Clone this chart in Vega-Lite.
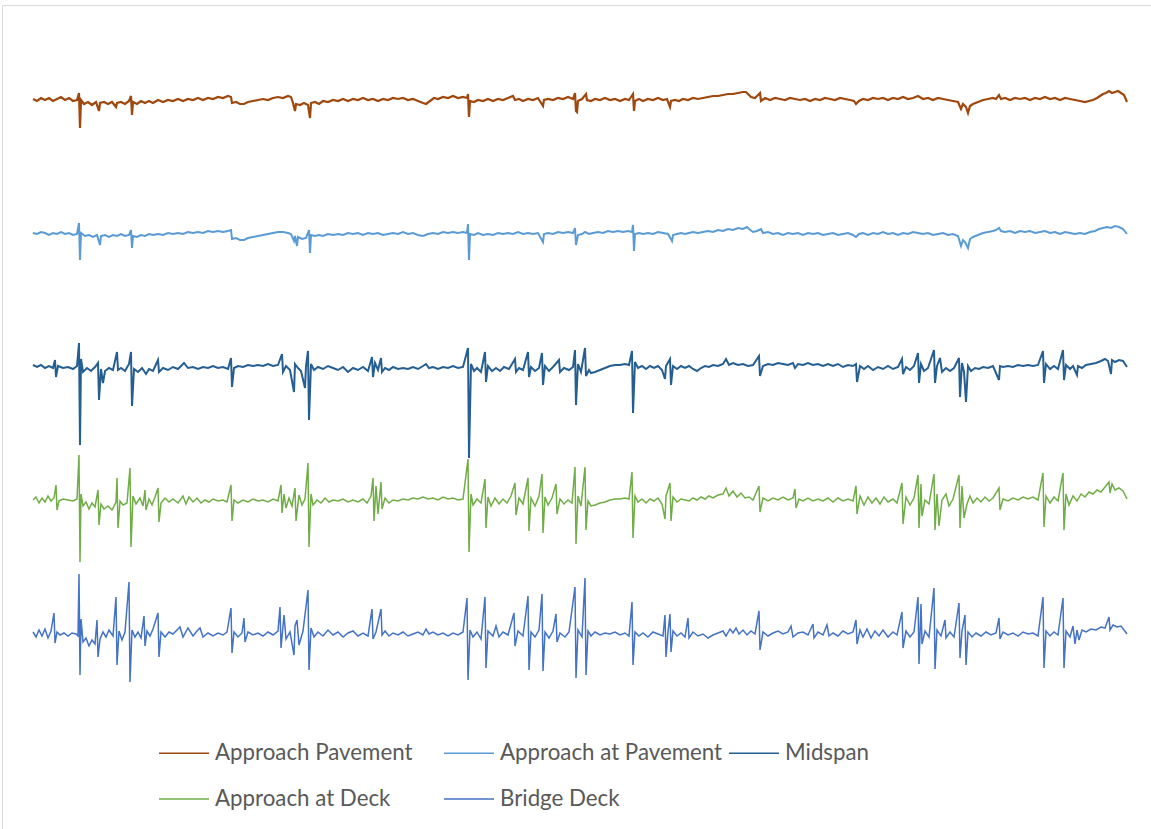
{
 "$schema": "https://vega.github.io/schema/vega-lite/v6.json",
 "width": 1149,
 "height": 824,
 "padding": {"left": 2, "top": 5, "right": 0, "bottom": 0},
 "autosize": {"type": "none"},
 "background": "white",
 "config": {"view": {"stroke": "#d9d9d9", "strokeWidth": 1}},
 "datasets": {
  "ap": [{"t":0,"v":535},{"t":4,"v":533},{"t":8,"v":536},{"t":12,"v":534},{"t":16,"v":536},{"t":20,"v":533},{"t":24,"v":535},{"t":28,"v":537},{"t":32,"v":534},{"t":36,"v":536},{"t":40,"v":533},{"t":44,"v":534},{"t":46,"v":541},{"t":47,"v":506},{"t":48,"v":534},{"t":51,"v":530},{"t":55,"v":532},{"t":59,"v":529},{"t":63,"v":532},{"t":66,"v":523},{"t":67,"v":531},{"t":71,"v":532},{"t":75,"v":530},{"t":79,"v":532},{"t":83,"v":527},{"t":84,"v":531},{"t":88,"v":532},{"t":92,"v":530},{"t":96,"v":533},{"t":98,"v":538},{"t":99,"v":519},{"t":100,"v":532},{"t":104,"v":530},{"t":108,"v":533},{"t":112,"v":531},{"t":116,"v":533},{"t":120,"v":531},{"t":125,"v":534},{"t":130,"v":532},{"t":135,"v":534},{"t":140,"v":533},{"t":145,"v":535},{"t":150,"v":533},{"t":155,"v":535},{"t":160,"v":534},{"t":165,"v":536},{"t":170,"v":534},{"t":175,"v":536},{"t":180,"v":535},{"t":185,"v":537},{"t":190,"v":536},{"t":195,"v":538},{"t":198,"v":537},{"t":199,"v":531},{"t":203,"v":532},{"t":207,"v":530},{"t":211,"v":530},{"t":215,"v":532},{"t":220,"v":533},{"t":225,"v":534},{"t":230,"v":535},{"t":235,"v":534},{"t":240,"v":536},{"t":245,"v":537},{"t":250,"v":536},{"t":255,"v":538},{"t":258,"v":537},{"t":260,"v":531},{"t":262,"v":523},{"t":263,"v":530},{"t":267,"v":529},{"t":271,"v":531},{"t":275,"v":529},{"t":277,"v":516},{"t":278,"v":531},{"t":282,"v":532},{"t":286,"v":530},{"t":290,"v":533},{"t":295,"v":532},{"t":300,"v":534},{"t":305,"v":533},{"t":310,"v":535},{"t":315,"v":533},{"t":320,"v":535},{"t":325,"v":534},{"t":330,"v":536},{"t":335,"v":534},{"t":340,"v":535},{"t":345,"v":533},{"t":350,"v":535},{"t":355,"v":534},{"t":360,"v":536},{"t":365,"v":535},{"t":370,"v":536},{"t":375,"v":534},{"t":380,"v":535},{"t":385,"v":533},{"t":390,"v":531},{"t":393,"v":530},{"t":397,"v":533},{"t":401,"v":536},{"t":405,"v":535},{"t":410,"v":537},{"t":415,"v":536},{"t":420,"v":538},{"t":425,"v":536},{"t":430,"v":537},{"t":434,"v":536},{"t":435,"v":540},{"t":436,"v":517},{"t":437,"v":533},{"t":441,"v":532},{"t":445,"v":534},{"t":450,"v":533},{"t":455,"v":535},{"t":460,"v":533},{"t":465,"v":535},{"t":470,"v":534},{"t":475,"v":536},{"t":480,"v":538},{"t":482,"v":534},{"t":486,"v":535},{"t":490,"v":533},{"t":495,"v":535},{"t":500,"v":534},{"t":505,"v":536},{"t":510,"v":528},{"t":511,"v":534},{"t":515,"v":535},{"t":520,"v":534},{"t":525,"v":536},{"t":530,"v":535},{"t":535,"v":537},{"t":540,"v":535},{"t":542,"v":541},{"t":543,"v":523},{"t":544,"v":522},{"t":545,"v":533},{"t":549,"v":535},{"t":553,"v":540},{"t":554,"v":534},{"t":558,"v":533},{"t":562,"v":535},{"t":567,"v":534},{"t":572,"v":536},{"t":577,"v":534},{"t":582,"v":535},{"t":587,"v":533},{"t":592,"v":535},{"t":596,"v":534},{"t":600,"v":540},{"t":601,"v":523},{"t":602,"v":533},{"t":606,"v":535},{"t":610,"v":533},{"t":615,"v":535},{"t":620,"v":534},{"t":625,"v":536},{"t":630,"v":534},{"t":634,"v":535},{"t":637,"v":527},{"t":638,"v":533},{"t":642,"v":534},{"t":646,"v":533},{"t":650,"v":535},{"t":655,"v":534},{"t":660,"v":536},{"t":665,"v":535},{"t":670,"v":536},{"t":675,"v":537},{"t":680,"v":538},{"t":685,"v":538},{"t":690,"v":539},{"t":695,"v":540},{"t":700,"v":540},{"t":705,"v":541},{"t":710,"v":542},{"t":713,"v":542},{"t":716,"v":539},{"t":718,"v":537},{"t":722,"v":536},{"t":727,"v":541},{"t":728,"v":533},{"t":732,"v":536},{"t":737,"v":534},{"t":742,"v":536},{"t":747,"v":535},{"t":752,"v":534},{"t":757,"v":536},{"t":762,"v":535},{"t":767,"v":534},{"t":772,"v":535},{"t":777,"v":533},{"t":782,"v":535},{"t":787,"v":534},{"t":792,"v":536},{"t":797,"v":535},{"t":802,"v":534},{"t":807,"v":536},{"t":812,"v":535},{"t":817,"v":534},{"t":821,"v":533},{"t":823,"v":530},{"t":826,"v":533},{"t":830,"v":535},{"t":835,"v":534},{"t":840,"v":536},{"t":845,"v":535},{"t":850,"v":536},{"t":855,"v":534},{"t":860,"v":536},{"t":865,"v":535},{"t":870,"v":537},{"t":875,"v":535},{"t":880,"v":536},{"t":885,"v":538},{"t":890,"v":535},{"t":895,"v":536},{"t":900,"v":534},{"t":905,"v":536},{"t":910,"v":535},{"t":915,"v":534},{"t":920,"v":533},{"t":925,"v":532},{"t":928,"v":525},{"t":930,"v":530},{"t":933,"v":527},{"t":935,"v":521},{"t":937,"v":528},{"t":940,"v":530},{"t":945,"v":532},{"t":950,"v":534},{"t":955,"v":535},{"t":960,"v":536},{"t":963,"v":535},{"t":966,"v":539},{"t":968,"v":535},{"t":972,"v":536},{"t":977,"v":534},{"t":982,"v":536},{"t":987,"v":535},{"t":992,"v":536},{"t":997,"v":534},{"t":1002,"v":536},{"t":1007,"v":535},{"t":1012,"v":537},{"t":1017,"v":535},{"t":1022,"v":536},{"t":1027,"v":534},{"t":1032,"v":536},{"t":1037,"v":535},{"t":1042,"v":534},{"t":1047,"v":533},{"t":1052,"v":532},{"t":1056,"v":533},{"t":1060,"v":534},{"t":1064,"v":536},{"t":1067,"v":538},{"t":1070,"v":540},{"t":1073,"v":541},{"t":1076,"v":543},{"t":1079,"v":541},{"t":1082,"v":542},{"t":1085,"v":543},{"t":1088,"v":541},{"t":1091,"v":539},{"t":1094,"v":532}],
  "aap": [{"t":0,"v":401},{"t":4,"v":400},{"t":8,"v":402},{"t":12,"v":401},{"t":16,"v":399},{"t":20,"v":401},{"t":24,"v":400},{"t":28,"v":402},{"t":32,"v":400},{"t":36,"v":401},{"t":40,"v":399},{"t":44,"v":400},{"t":46,"v":411},{"t":47,"v":374},{"t":48,"v":401},{"t":52,"v":398},{"t":56,"v":399},{"t":60,"v":397},{"t":64,"v":399},{"t":67,"v":389},{"t":68,"v":398},{"t":72,"v":399},{"t":76,"v":397},{"t":80,"v":399},{"t":84,"v":398},{"t":88,"v":400},{"t":92,"v":398},{"t":96,"v":399},{"t":98,"v":404},{"t":99,"v":386},{"t":100,"v":398},{"t":104,"v":397},{"t":108,"v":399},{"t":112,"v":398},{"t":116,"v":400},{"t":120,"v":399},{"t":125,"v":400},{"t":130,"v":399},{"t":135,"v":401},{"t":140,"v":400},{"t":145,"v":401},{"t":150,"v":400},{"t":155,"v":402},{"t":160,"v":401},{"t":165,"v":402},{"t":170,"v":401},{"t":175,"v":403},{"t":180,"v":402},{"t":185,"v":403},{"t":190,"v":402},{"t":195,"v":403},{"t":198,"v":404},{"t":199,"v":395},{"t":203,"v":396},{"t":207,"v":394},{"t":211,"v":394},{"t":215,"v":396},{"t":220,"v":397},{"t":225,"v":398},{"t":230,"v":399},{"t":235,"v":400},{"t":240,"v":401},{"t":245,"v":402},{"t":250,"v":402},{"t":255,"v":401},{"t":258,"v":400},{"t":261,"v":393},{"t":262,"v":398},{"t":264,"v":388},{"t":265,"v":397},{"t":269,"v":395},{"t":273,"v":396},{"t":276,"v":404},{"t":277,"v":381},{"t":278,"v":399},{"t":282,"v":398},{"t":286,"v":399},{"t":290,"v":398},{"t":295,"v":400},{"t":300,"v":399},{"t":305,"v":400},{"t":310,"v":399},{"t":315,"v":401},{"t":320,"v":400},{"t":325,"v":401},{"t":330,"v":399},{"t":335,"v":401},{"t":340,"v":400},{"t":345,"v":401},{"t":350,"v":399},{"t":355,"v":400},{"t":360,"v":401},{"t":365,"v":400},{"t":370,"v":402},{"t":375,"v":400},{"t":380,"v":401},{"t":385,"v":399},{"t":390,"v":398},{"t":395,"v":400},{"t":400,"v":401},{"t":405,"v":400},{"t":410,"v":402},{"t":415,"v":401},{"t":420,"v":402},{"t":425,"v":401},{"t":430,"v":402},{"t":434,"v":401},{"t":435,"v":410},{"t":436,"v":374},{"t":437,"v":400},{"t":441,"v":399},{"t":445,"v":401},{"t":450,"v":399},{"t":455,"v":400},{"t":460,"v":399},{"t":465,"v":401},{"t":470,"v":400},{"t":475,"v":401},{"t":480,"v":400},{"t":485,"v":402},{"t":490,"v":400},{"t":495,"v":401},{"t":500,"v":400},{"t":505,"v":401},{"t":510,"v":392},{"t":511,"v":400},{"t":515,"v":401},{"t":520,"v":400},{"t":525,"v":402},{"t":530,"v":401},{"t":535,"v":402},{"t":540,"v":401},{"t":542,"v":406},{"t":543,"v":389},{"t":545,"v":399},{"t":549,"v":400},{"t":552,"v":402},{"t":556,"v":400},{"t":560,"v":401},{"t":565,"v":402},{"t":570,"v":401},{"t":575,"v":403},{"t":580,"v":402},{"t":585,"v":403},{"t":590,"v":402},{"t":595,"v":403},{"t":599,"v":402},{"t":600,"v":409},{"t":601,"v":383},{"t":602,"v":400},{"t":606,"v":401},{"t":610,"v":400},{"t":615,"v":401},{"t":620,"v":400},{"t":625,"v":402},{"t":630,"v":401},{"t":635,"v":400},{"t":639,"v":393},{"t":640,"v":399},{"t":644,"v":400},{"t":648,"v":401},{"t":652,"v":400},{"t":656,"v":401},{"t":660,"v":402},{"t":665,"v":401},{"t":670,"v":402},{"t":675,"v":403},{"t":680,"v":402},{"t":685,"v":404},{"t":690,"v":403},{"t":695,"v":405},{"t":700,"v":404},{"t":705,"v":406},{"t":710,"v":405},{"t":714,"v":407},{"t":716,"v":405},{"t":720,"v":402},{"t":724,"v":403},{"t":728,"v":405},{"t":730,"v":401},{"t":735,"v":402},{"t":740,"v":400},{"t":745,"v":401},{"t":750,"v":399},{"t":755,"v":401},{"t":760,"v":400},{"t":765,"v":401},{"t":770,"v":399},{"t":775,"v":401},{"t":780,"v":400},{"t":785,"v":401},{"t":790,"v":399},{"t":795,"v":400},{"t":800,"v":401},{"t":805,"v":399},{"t":810,"v":400},{"t":815,"v":401},{"t":820,"v":399},{"t":823,"v":397},{"t":826,"v":400},{"t":830,"v":401},{"t":835,"v":399},{"t":840,"v":401},{"t":845,"v":400},{"t":850,"v":402},{"t":855,"v":400},{"t":860,"v":401},{"t":865,"v":399},{"t":870,"v":401},{"t":875,"v":400},{"t":880,"v":402},{"t":885,"v":401},{"t":890,"v":400},{"t":895,"v":401},{"t":900,"v":399},{"t":905,"v":400},{"t":910,"v":401},{"t":915,"v":399},{"t":920,"v":400},{"t":925,"v":398},{"t":928,"v":388},{"t":930,"v":394},{"t":932,"v":392},{"t":935,"v":386},{"t":937,"v":395},{"t":940,"v":397},{"t":945,"v":399},{"t":950,"v":401},{"t":955,"v":402},{"t":960,"v":403},{"t":963,"v":404},{"t":966,"v":406},{"t":968,"v":403},{"t":972,"v":402},{"t":977,"v":403},{"t":982,"v":401},{"t":987,"v":403},{"t":992,"v":402},{"t":997,"v":403},{"t":1002,"v":401},{"t":1007,"v":402},{"t":1012,"v":403},{"t":1017,"v":401},{"t":1022,"v":402},{"t":1027,"v":400},{"t":1032,"v":402},{"t":1037,"v":401},{"t":1042,"v":400},{"t":1047,"v":401},{"t":1052,"v":400},{"t":1057,"v":402},{"t":1062,"v":403},{"t":1066,"v":405},{"t":1070,"v":406},{"t":1074,"v":407},{"t":1078,"v":406},{"t":1082,"v":408},{"t":1086,"v":407},{"t":1090,"v":405},{"t":1094,"v":400}],
  "mid": [{"t":0,"v":269},{"t":4,"v":267},{"t":8,"v":269},{"t":12,"v":266},{"t":16,"v":268},{"t":20,"v":266},{"t":22,"v":274},{"t":23,"v":257},{"t":25,"v":268},{"t":30,"v":266},{"t":35,"v":267},{"t":40,"v":265},{"t":44,"v":268},{"t":46,"v":291},{"t":47,"v":189},{"t":48,"v":275},{"t":50,"v":262},{"t":54,"v":266},{"t":58,"v":263},{"t":62,"v":267},{"t":65,"v":271},{"t":66,"v":234},{"t":68,"v":265},{"t":70,"v":251},{"t":72,"v":263},{"t":76,"v":266},{"t":80,"v":264},{"t":84,"v":282},{"t":85,"v":264},{"t":88,"v":266},{"t":92,"v":263},{"t":96,"v":270},{"t":98,"v":282},{"t":99,"v":228},{"t":101,"v":265},{"t":105,"v":262},{"t":109,"v":266},{"t":113,"v":260},{"t":116,"v":265},{"t":120,"v":263},{"t":125,"v":274},{"t":126,"v":262},{"t":130,"v":266},{"t":135,"v":264},{"t":140,"v":267},{"t":145,"v":265},{"t":151,"v":271},{"t":155,"v":266},{"t":160,"v":267},{"t":165,"v":265},{"t":170,"v":267},{"t":175,"v":266},{"t":180,"v":268},{"t":185,"v":266},{"t":190,"v":267},{"t":195,"v":265},{"t":198,"v":276},{"t":199,"v":247},{"t":201,"v":266},{"t":205,"v":268},{"t":210,"v":267},{"t":215,"v":269},{"t":220,"v":268},{"t":225,"v":269},{"t":230,"v":268},{"t":235,"v":270},{"t":240,"v":268},{"t":245,"v":269},{"t":249,"v":280},{"t":250,"v":262},{"t":253,"v":268},{"t":257,"v":264},{"t":261,"v":242},{"t":262,"v":270},{"t":265,"v":266},{"t":268,"v":263},{"t":272,"v":246},{"t":273,"v":268},{"t":275,"v":283},{"t":276,"v":214},{"t":278,"v":270},{"t":281,"v":264},{"t":285,"v":267},{"t":290,"v":265},{"t":295,"v":268},{"t":300,"v":266},{"t":305,"v":264},{"t":310,"v":267},{"t":315,"v":262},{"t":320,"v":266},{"t":325,"v":264},{"t":330,"v":267},{"t":335,"v":263},{"t":339,"v":277},{"t":340,"v":257},{"t":342,"v":271},{"t":345,"v":264},{"t":348,"v":276},{"t":349,"v":262},{"t":352,"v":266},{"t":356,"v":264},{"t":360,"v":267},{"t":365,"v":265},{"t":370,"v":266},{"t":375,"v":265},{"t":380,"v":267},{"t":385,"v":265},{"t":390,"v":268},{"t":393,"v":270},{"t":396,"v":266},{"t":400,"v":267},{"t":405,"v":265},{"t":410,"v":267},{"t":415,"v":266},{"t":420,"v":268},{"t":425,"v":266},{"t":430,"v":267},{"t":435,"v":286},{"t":436,"v":176},{"t":438,"v":270},{"t":441,"v":263},{"t":444,"v":266},{"t":448,"v":262},{"t":452,"v":282},{"t":453,"v":252},{"t":455,"v":268},{"t":459,"v":263},{"t":463,"v":266},{"t":467,"v":263},{"t":471,"v":267},{"t":476,"v":265},{"t":482,"v":275},{"t":483,"v":262},{"t":486,"v":266},{"t":490,"v":264},{"t":495,"v":282},{"t":496,"v":257},{"t":498,"v":267},{"t":502,"v":263},{"t":506,"v":266},{"t":509,"v":281},{"t":510,"v":249},{"t":512,"v":268},{"t":516,"v":263},{"t":520,"v":267},{"t":526,"v":274},{"t":527,"v":262},{"t":531,"v":266},{"t":536,"v":264},{"t":540,"v":267},{"t":542,"v":284},{"t":543,"v":229},{"t":545,"v":270},{"t":548,"v":262},{"t":552,"v":286},{"t":553,"v":258},{"t":556,"v":264},{"t":558,"v":261},{"t":562,"v":262},{"t":567,"v":264},{"t":572,"v":266},{"t":577,"v":268},{"t":582,"v":269},{"t":587,"v":269},{"t":592,"v":270},{"t":596,"v":269},{"t":599,"v":283},{"t":600,"v":221},{"t":602,"v":272},{"t":605,"v":266},{"t":609,"v":268},{"t":613,"v":265},{"t":617,"v":268},{"t":621,"v":266},{"t":625,"v":268},{"t":629,"v":264},{"t":632,"v":255},{"t":633,"v":268},{"t":637,"v":275},{"t":638,"v":249},{"t":640,"v":268},{"t":644,"v":265},{"t":648,"v":268},{"t":652,"v":266},{"t":656,"v":268},{"t":660,"v":265},{"t":664,"v":263},{"t":668,"v":266},{"t":672,"v":268},{"t":676,"v":267},{"t":680,"v":269},{"t":685,"v":268},{"t":690,"v":270},{"t":693,"v":275},{"t":696,"v":269},{"t":700,"v":271},{"t":705,"v":269},{"t":710,"v":270},{"t":715,"v":268},{"t":720,"v":269},{"t":726,"v":278},{"t":727,"v":258},{"t":730,"v":268},{"t":735,"v":270},{"t":740,"v":269},{"t":745,"v":271},{"t":750,"v":270},{"t":755,"v":269},{"t":760,"v":271},{"t":762,"v":266},{"t":765,"v":270},{"t":770,"v":269},{"t":775,"v":271},{"t":780,"v":269},{"t":785,"v":270},{"t":790,"v":268},{"t":795,"v":270},{"t":800,"v":268},{"t":805,"v":270},{"t":810,"v":267},{"t":815,"v":269},{"t":820,"v":268},{"t":823,"v":270},{"t":824,"v":252},{"t":827,"v":268},{"t":831,"v":265},{"t":835,"v":268},{"t":840,"v":264},{"t":845,"v":267},{"t":850,"v":265},{"t":855,"v":268},{"t":860,"v":265},{"t":865,"v":267},{"t":869,"v":275},{"t":870,"v":260},{"t":873,"v":267},{"t":877,"v":264},{"t":881,"v":268},{"t":885,"v":281},{"t":886,"v":251},{"t":888,"v":270},{"t":891,"v":263},{"t":895,"v":266},{"t":901,"v":284},{"t":902,"v":251},{"t":904,"v":268},{"t":907,"v":276},{"t":909,"v":262},{"t":913,"v":266},{"t":917,"v":263},{"t":921,"v":266},{"t":926,"v":276},{"t":927,"v":237},{"t":929,"v":271},{"t":931,"v":262},{"t":933,"v":232},{"t":935,"v":268},{"t":938,"v":263},{"t":942,"v":266},{"t":946,"v":265},{"t":950,"v":267},{"t":955,"v":266},{"t":960,"v":268},{"t":966,"v":254},{"t":967,"v":268},{"t":970,"v":267},{"t":975,"v":268},{"t":980,"v":267},{"t":985,"v":269},{"t":990,"v":268},{"t":995,"v":269},{"t":1000,"v":268},{"t":1005,"v":269},{"t":1010,"v":283},{"t":1011,"v":251},{"t":1013,"v":270},{"t":1017,"v":265},{"t":1021,"v":268},{"t":1025,"v":265},{"t":1030,"v":284},{"t":1031,"v":254},{"t":1033,"v":269},{"t":1037,"v":265},{"t":1040,"v":268},{"t":1044,"v":259},{"t":1045,"v":268},{"t":1049,"v":266},{"t":1053,"v":269},{"t":1058,"v":270},{"t":1063,"v":271},{"t":1068,"v":273},{"t":1072,"v":275},{"t":1075,"v":273},{"t":1078,"v":260},{"t":1079,"v":274},{"t":1082,"v":272},{"t":1086,"v":274},{"t":1090,"v":273},{"t":1094,"v":267}],
  "aad": [{"t":0,"v":134},{"t":3,"v":137},{"t":6,"v":131},{"t":9,"v":136},{"t":12,"v":132},{"t":15,"v":138},{"t":18,"v":133},{"t":21,"v":136},{"t":23,"v":149},{"t":24,"v":124},{"t":26,"v":133},{"t":30,"v":135},{"t":35,"v":134},{"t":40,"v":133},{"t":44,"v":135},{"t":46,"v":179},{"t":47,"v":72},{"t":48,"v":140},{"t":50,"v":128},{"t":53,"v":132},{"t":56,"v":125},{"t":59,"v":131},{"t":62,"v":127},{"t":65,"v":144},{"t":66,"v":109},{"t":68,"v":130},{"t":71,"v":125},{"t":75,"v":128},{"t":79,"v":124},{"t":83,"v":132},{"t":84,"v":156},{"t":85,"v":106},{"t":87,"v":133},{"t":90,"v":129},{"t":94,"v":131},{"t":97,"v":166},{"t":98,"v":87},{"t":100,"v":138},{"t":103,"v":130},{"t":107,"v":136},{"t":110,"v":128},{"t":112,"v":144},{"t":113,"v":124},{"t":116,"v":135},{"t":119,"v":129},{"t":122,"v":137},{"t":125,"v":146},{"t":126,"v":112},{"t":128,"v":131},{"t":132,"v":136},{"t":136,"v":132},{"t":140,"v":135},{"t":145,"v":131},{"t":150,"v":138},{"t":153,"v":130},{"t":156,"v":137},{"t":160,"v":132},{"t":164,"v":136},{"t":168,"v":131},{"t":172,"v":134},{"t":176,"v":132},{"t":180,"v":135},{"t":185,"v":133},{"t":190,"v":134},{"t":194,"v":132},{"t":198,"v":149},{"t":199,"v":113},{"t":201,"v":134},{"t":205,"v":131},{"t":210,"v":134},{"t":215,"v":132},{"t":220,"v":135},{"t":225,"v":133},{"t":230,"v":134},{"t":235,"v":132},{"t":240,"v":135},{"t":245,"v":133},{"t":248,"v":149},{"t":249,"v":121},{"t":251,"v":140},{"t":253,"v":126},{"t":256,"v":136},{"t":259,"v":128},{"t":262,"v":146},{"t":263,"v":113},{"t":266,"v":139},{"t":269,"v":129},{"t":272,"v":135},{"t":275,"v":171},{"t":276,"v":87},{"t":278,"v":140},{"t":280,"v":129},{"t":284,"v":134},{"t":288,"v":131},{"t":292,"v":136},{"t":296,"v":132},{"t":300,"v":134},{"t":305,"v":133},{"t":310,"v":135},{"t":315,"v":132},{"t":320,"v":134},{"t":325,"v":132},{"t":330,"v":135},{"t":334,"v":131},{"t":338,"v":138},{"t":340,"v":156},{"t":341,"v":113},{"t":343,"v":148},{"t":345,"v":120},{"t":348,"v":152},{"t":349,"v":125},{"t":352,"v":136},{"t":356,"v":131},{"t":360,"v":134},{"t":365,"v":133},{"t":370,"v":135},{"t":375,"v":134},{"t":380,"v":136},{"t":385,"v":135},{"t":390,"v":137},{"t":395,"v":135},{"t":400,"v":136},{"t":405,"v":134},{"t":410,"v":137},{"t":415,"v":135},{"t":420,"v":136},{"t":425,"v":134},{"t":430,"v":135},{"t":435,"v":175},{"t":436,"v":82},{"t":438,"v":140},{"t":440,"v":129},{"t":444,"v":135},{"t":448,"v":131},{"t":452,"v":155},{"t":453,"v":106},{"t":455,"v":137},{"t":458,"v":128},{"t":462,"v":136},{"t":466,"v":130},{"t":470,"v":135},{"t":474,"v":131},{"t":478,"v":138},{"t":482,"v":151},{"t":483,"v":119},{"t":486,"v":136},{"t":490,"v":130},{"t":495,"v":156},{"t":496,"v":103},{"t":498,"v":136},{"t":502,"v":128},{"t":506,"v":138},{"t":509,"v":160},{"t":510,"v":101},{"t":512,"v":137},{"t":515,"v":129},{"t":519,"v":136},{"t":523,"v":150},{"t":524,"v":120},{"t":527,"v":135},{"t":531,"v":130},{"t":535,"v":134},{"t":539,"v":131},{"t":542,"v":167},{"t":543,"v":90},{"t":545,"v":138},{"t":548,"v":128},{"t":552,"v":167},{"t":553,"v":104},{"t":555,"v":133},{"t":558,"v":128},{"t":562,"v":129},{"t":567,"v":131},{"t":572,"v":132},{"t":577,"v":134},{"t":582,"v":135},{"t":587,"v":135},{"t":592,"v":136},{"t":596,"v":135},{"t":599,"v":162},{"t":600,"v":96},{"t":602,"v":138},{"t":605,"v":132},{"t":609,"v":135},{"t":613,"v":131},{"t":617,"v":135},{"t":621,"v":133},{"t":625,"v":136},{"t":629,"v":130},{"t":632,"v":115},{"t":633,"v":138},{"t":637,"v":151},{"t":638,"v":113},{"t":640,"v":137},{"t":644,"v":132},{"t":648,"v":135},{"t":652,"v":134},{"t":656,"v":133},{"t":660,"v":136},{"t":664,"v":134},{"t":668,"v":137},{"t":672,"v":135},{"t":676,"v":138},{"t":680,"v":136},{"t":685,"v":139},{"t":690,"v":140},{"t":693,"v":146},{"t":696,"v":138},{"t":700,"v":143},{"t":704,"v":137},{"t":708,"v":141},{"t":712,"v":136},{"t":716,"v":137},{"t":720,"v":134},{"t":726,"v":148},{"t":727,"v":122},{"t":730,"v":136},{"t":735,"v":133},{"t":740,"v":136},{"t":745,"v":134},{"t":750,"v":137},{"t":755,"v":134},{"t":760,"v":136},{"t":762,"v":145},{"t":763,"v":126},{"t":766,"v":135},{"t":770,"v":133},{"t":775,"v":136},{"t":780,"v":133},{"t":785,"v":135},{"t":790,"v":133},{"t":795,"v":136},{"t":800,"v":132},{"t":805,"v":136},{"t":810,"v":133},{"t":815,"v":135},{"t":820,"v":133},{"t":823,"v":148},{"t":824,"v":120},{"t":827,"v":138},{"t":831,"v":129},{"t":835,"v":137},{"t":839,"v":131},{"t":843,"v":136},{"t":847,"v":130},{"t":851,"v":137},{"t":855,"v":132},{"t":860,"v":135},{"t":864,"v":131},{"t":869,"v":151},{"t":870,"v":110},{"t":873,"v":137},{"t":877,"v":129},{"t":881,"v":136},{"t":885,"v":159},{"t":886,"v":106},{"t":888,"v":150},{"t":889,"v":118},{"t":892,"v":134},{"t":896,"v":130},{"t":901,"v":160},{"t":902,"v":104},{"t":904,"v":140},{"t":906,"v":108},{"t":909,"v":134},{"t":913,"v":140},{"t":916,"v":128},{"t":920,"v":135},{"t":926,"v":159},{"t":927,"v":106},{"t":929,"v":148},{"t":931,"v":116},{"t":934,"v":130},{"t":937,"v":138},{"t":940,"v":131},{"t":944,"v":136},{"t":948,"v":132},{"t":952,"v":137},{"t":956,"v":133},{"t":960,"v":136},{"t":966,"v":146},{"t":967,"v":124},{"t":970,"v":135},{"t":975,"v":133},{"t":980,"v":136},{"t":985,"v":134},{"t":990,"v":137},{"t":995,"v":135},{"t":1000,"v":137},{"t":1005,"v":134},{"t":1010,"v":161},{"t":1011,"v":107},{"t":1013,"v":138},{"t":1017,"v":131},{"t":1021,"v":137},{"t":1025,"v":133},{"t":1030,"v":161},{"t":1031,"v":104},{"t":1033,"v":140},{"t":1036,"v":129},{"t":1040,"v":138},{"t":1044,"v":133},{"t":1048,"v":140},{"t":1052,"v":137},{"t":1056,"v":142},{"t":1060,"v":140},{"t":1064,"v":144},{"t":1068,"v":142},{"t":1072,"v":147},{"t":1076,"v":152},{"t":1077,"v":141},{"t":1079,"v":150},{"t":1082,"v":144},{"t":1086,"v":146},{"t":1090,"v":143},{"t":1094,"v":135}],
  "bd": [{"t":0,"v":2},{"t":3,"v":-3},{"t":6,"v":4},{"t":9,"v":-2},{"t":12,"v":5},{"t":15,"v":-4},{"t":18,"v":3},{"t":21,"v":21},{"t":22,"v":-9},{"t":24,"v":2},{"t":27,"v":-1},{"t":31,"v":1},{"t":35,"v":-2},{"t":39,"v":1},{"t":43,"v":0},{"t":45,"v":-2},{"t":46,"v":60},{"t":47,"v":-41},{"t":48,"v":15},{"t":50,"v":-8},{"t":53,"v":-4},{"t":56,"v":-12},{"t":59,"v":-6},{"t":62,"v":-10},{"t":64,"v":14},{"t":65,"v":-23},{"t":67,"v":-5},{"t":70,"v":2},{"t":73,"v":-3},{"t":76,"v":4},{"t":80,"v":-2},{"t":83,"v":37},{"t":84,"v":-31},{"t":86,"v":3},{"t":89,"v":-6},{"t":92,"v":2},{"t":96,"v":52},{"t":97,"v":-48},{"t":99,"v":4},{"t":102,"v":-3},{"t":105,"v":2},{"t":108,"v":-4},{"t":111,"v":18},{"t":112,"v":-12},{"t":114,"v":3},{"t":117,"v":-2},{"t":120,"v":5},{"t":125,"v":21},{"t":126,"v":-23},{"t":128,"v":2},{"t":132,"v":-3},{"t":136,"v":2},{"t":140,"v":0},{"t":145,"v":5},{"t":147,"v":7},{"t":150,"v":-3},{"t":155,"v":6},{"t":160,"v":-2},{"t":164,"v":3},{"t":167,"v":6},{"t":170,"v":-3},{"t":175,"v":1},{"t":180,"v":-2},{"t":185,"v":1},{"t":190,"v":-1},{"t":194,"v":2},{"t":198,"v":26},{"t":199,"v":-19},{"t":201,"v":2},{"t":205,"v":-3},{"t":209,"v":1},{"t":211,"v":16},{"t":212,"v":-8},{"t":215,"v":2},{"t":220,"v":-1},{"t":225,"v":1},{"t":230,"v":-2},{"t":235,"v":2},{"t":240,"v":-1},{"t":245,"v":3},{"t":247,"v":27},{"t":248,"v":-14},{"t":251,"v":19},{"t":253,"v":-5},{"t":257,"v":2},{"t":261,"v":-21},{"t":262,"v":8},{"t":264,"v":14},{"t":266,"v":-11},{"t":270,"v":3},{"t":275,"v":44},{"t":276,"v":-36},{"t":278,"v":6},{"t":281,"v":-3},{"t":285,"v":2},{"t":290,"v":-2},{"t":295,"v":4},{"t":300,"v":-1},{"t":305,"v":2},{"t":310,"v":-3},{"t":315,"v":1},{"t":320,"v":3},{"t":325,"v":-2},{"t":330,"v":1},{"t":335,"v":-2},{"t":339,"v":25},{"t":340,"v":-5},{"t":343,"v":2},{"t":348,"v":25},{"t":349,"v":-1},{"t":352,"v":3},{"t":356,"v":-2},{"t":360,"v":1},{"t":365,"v":-1},{"t":370,"v":2},{"t":375,"v":-2},{"t":380,"v":0},{"t":385,"v":2},{"t":390,"v":-1},{"t":393,"v":5},{"t":396,"v":0},{"t":400,"v":2},{"t":405,"v":-1},{"t":410,"v":1},{"t":415,"v":-2},{"t":420,"v":1},{"t":425,"v":-1},{"t":430,"v":2},{"t":434,"v":36},{"t":435,"v":-46},{"t":437,"v":4},{"t":440,"v":-3},{"t":444,"v":2},{"t":448,"v":-5},{"t":452,"v":37},{"t":453,"v":-34},{"t":455,"v":3},{"t":460,"v":-2},{"t":463,"v":8},{"t":466,"v":-3},{"t":470,"v":2},{"t":475,"v":-1},{"t":481,"v":21},{"t":482,"v":-12},{"t":485,"v":3},{"t":490,"v":-2},{"t":495,"v":38},{"t":496,"v":-36},{"t":498,"v":2},{"t":502,"v":-3},{"t":506,"v":4},{"t":509,"v":40},{"t":510,"v":-37},{"t":512,"v":2},{"t":516,"v":-4},{"t":520,"v":3},{"t":523,"v":20},{"t":524,"v":-8},{"t":527,"v":1},{"t":532,"v":-3},{"t":536,"v":2},{"t":542,"v":47},{"t":543,"v":-44},{"t":545,"v":4},{"t":549,"v":-3},{"t":552,"v":56},{"t":553,"v":-41},{"t":555,"v":3},{"t":558,"v":-2},{"t":562,"v":2},{"t":567,"v":-1},{"t":572,"v":1},{"t":577,"v":0},{"t":582,"v":2},{"t":587,"v":-1},{"t":592,"v":1},{"t":596,"v":-2},{"t":599,"v":32},{"t":600,"v":-31},{"t":602,"v":2},{"t":606,"v":-2},{"t":610,"v":1},{"t":615,"v":-3},{"t":620,"v":2},{"t":625,"v":0},{"t":630,"v":-2},{"t":632,"v":19},{"t":633,"v":-23},{"t":635,"v":2},{"t":637,"v":20},{"t":638,"v":-18},{"t":640,"v":3},{"t":644,"v":-2},{"t":648,"v":1},{"t":652,"v":-3},{"t":655,"v":16},{"t":656,"v":-4},{"t":660,"v":2},{"t":665,"v":-2},{"t":670,"v":0},{"t":675,"v":-4},{"t":680,"v":-1},{"t":685,"v":1},{"t":690,"v":3},{"t":693,"v":-2},{"t":697,"v":5},{"t":700,"v":1},{"t":703,"v":6},{"t":706,"v":0},{"t":710,"v":4},{"t":714,"v":-1},{"t":718,"v":3},{"t":722,"v":0},{"t":726,"v":23},{"t":727,"v":-16},{"t":730,"v":2},{"t":735,"v":-2},{"t":740,"v":1},{"t":745,"v":3},{"t":750,"v":0},{"t":755,"v":2},{"t":758,"v":8},{"t":760,"v":-3},{"t":765,"v":1},{"t":770,"v":2},{"t":775,"v":-1},{"t":780,"v":10},{"t":781,"v":-4},{"t":785,"v":2},{"t":790,"v":-1},{"t":794,"v":9},{"t":796,"v":-2},{"t":800,"v":1},{"t":805,"v":-2},{"t":810,"v":3},{"t":815,"v":0},{"t":820,"v":2},{"t":823,"v":14},{"t":824,"v":-10},{"t":827,"v":4},{"t":830,"v":-3},{"t":834,"v":5},{"t":838,"v":-4},{"t":842,"v":3},{"t":846,"v":-2},{"t":850,"v":4},{"t":855,"v":-3},{"t":860,"v":2},{"t":864,"v":-1},{"t":869,"v":22},{"t":870,"v":-14},{"t":873,"v":3},{"t":877,"v":-3},{"t":881,"v":2},{"t":885,"v":37},{"t":886,"v":-30},{"t":888,"v":30},{"t":889,"v":-10},{"t":892,"v":3},{"t":896,"v":-3},{"t":901,"v":46},{"t":902,"v":-35},{"t":904,"v":4},{"t":908,"v":-2},{"t":912,"v":14},{"t":913,"v":-4},{"t":917,"v":2},{"t":921,"v":-3},{"t":926,"v":31},{"t":927,"v":-24},{"t":929,"v":3},{"t":932,"v":19},{"t":933,"v":-31},{"t":935,"v":2},{"t":939,"v":-3},{"t":943,"v":1},{"t":948,"v":-2},{"t":953,"v":2},{"t":958,"v":-1},{"t":963,"v":1},{"t":966,"v":16},{"t":967,"v":-5},{"t":970,"v":2},{"t":975,"v":-1},{"t":980,"v":1},{"t":985,"v":-2},{"t":990,"v":2},{"t":995,"v":0},{"t":1000,"v":1},{"t":1005,"v":-2},{"t":1010,"v":37},{"t":1011,"v":-34},{"t":1013,"v":3},{"t":1017,"v":-2},{"t":1021,"v":2},{"t":1025,"v":-1},{"t":1030,"v":36},{"t":1031,"v":-34},{"t":1033,"v":3},{"t":1037,"v":-3},{"t":1040,"v":8},{"t":1042,"v":-10},{"t":1044,"v":4},{"t":1046,"v":-6},{"t":1049,"v":4},{"t":1053,"v":2},{"t":1058,"v":5},{"t":1063,"v":4},{"t":1068,"v":7},{"t":1072,"v":6},{"t":1076,"v":17},{"t":1077,"v":4},{"t":1080,"v":9},{"t":1084,"v":7},{"t":1088,"v":8},{"t":1091,"v":4},{"t":1094,"v":0}]
 },
 "encoding": {
  "x": {"field": "t", "type": "quantitative", "scale": {"domain": [-31, 1118], "nice": false, "zero": false}, "axis": null},
  "y": {"field": "v", "type": "quantitative", "scale": {"domain": [-195, 629], "nice": false, "zero": false}, "axis": null},
  "color": {"type": "nominal",
   "scale": {"domain": ["Approach Pavement", "Approach at Pavement", "Midspan", "Approach at Deck", "Bridge Deck"], "range": ["#9E480E", "#5B9BD5", "#255E91", "#70AD47", "#4472C4"]},
   "legend": {"orient": "none", "legendX": 156, "legendY": 722, "direction": "horizontal", "columns": 3, "gridAlign": "all", "title": null, "padding": 0, "symbolType": "stroke", "symbolSize": 2500, "symbolStrokeWidth": 1.5, "labelOffset": 5, "columnPadding": 3, "rowPadding": 8, "labelFont": "Lato", "labelFontSize": 22.3, "labelColor": "#595959", "labelLimit": 400}
  }
 },
 "layer": [
  {"data": {"name": "ap"}, "mark": {"type": "line", "strokeWidth": 2.2}, "encoding": {"color": {"datum": "Approach Pavement"}}},
  {"data": {"name": "aap"}, "mark": {"type": "line", "strokeWidth": 2}, "encoding": {"color": {"datum": "Approach at Pavement"}}},
  {"data": {"name": "mid"}, "mark": {"type": "line", "strokeWidth": 2}, "encoding": {"color": {"datum": "Midspan"}}},
  {"data": {"name": "aad"}, "mark": {"type": "line", "strokeWidth": 1.5}, "encoding": {"color": {"datum": "Approach at Deck"}}},
  {"data": {"name": "bd"}, "mark": {"type": "line", "strokeWidth": 1.5}, "encoding": {"color": {"datum": "Bridge Deck"}}}
 ]
}
